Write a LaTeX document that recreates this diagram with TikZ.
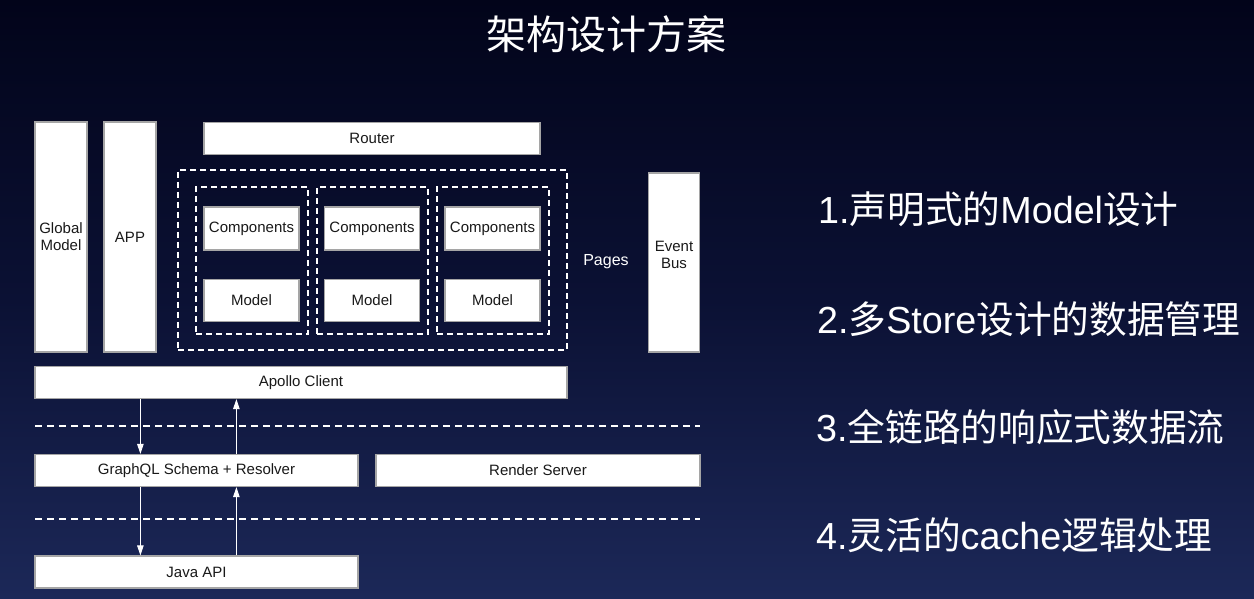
\documentclass[tikz,border=0pt]{standalone}
\usepackage{fontspec}
\setmainfont{Liberation Sans}
\newfontfamily\cjk{Noto Sans CJK SC}
\usetikzlibrary{arrows.meta}
\definecolor{bgtop}{RGB}{2,4,26}
\definecolor{bgmid}{RGB}{11,17,52}
\definecolor{bgbot}{RGB}{28,40,88}
\definecolor{boxline}{RGB}{165,165,165}
\definecolor{boxtext}{RGB}{25,25,25}

\begin{document}
\begin{tikzpicture}[x=1pt,y=-1pt,
  box/.style={draw=boxline, line width=1.2pt, fill=white, inner sep=0pt,
    text=boxtext, font=\fontsize{15}{17}\selectfont, align=center},
  boxlabel/.style={inner sep=0pt, text=boxtext,
    font=\fontsize{15}{17}\selectfont, align=center},
  group/.style={draw=white, line width=1.3pt, dash pattern=on 6pt off 4pt,
    inner sep=0pt},
  sep/.style={draw=white, line width=1.3pt, dash pattern=on 7pt off 5pt},
  flow/.style={draw=white, line width=0.9pt, -{Triangle[width=6.5pt,length=10pt]}},
  point/.style={font=\fontsize{37.7}{42}\selectfont, text=white,
    anchor=base west, inner sep=0pt}]

% background
\useasboundingbox (0,0) rectangle (1254,599);
\shade[top color=bgtop, bottom color=bgbot, middle color=bgmid]
  (0,0) rectangle (1254,599);

% title
\node[text=white, font=\cjk\fontsize{40}{44}\selectfont, inner sep=0pt]
  (title) at (606,34) {架构设计方案};

% left columns and router
\node[box, minimum width=52, minimum height=230] (gm) at (61,237) {Global\\Model};
\node[box, minimum width=52, minimum height=230] (app) at (130,237) {APP};
\node[box, minimum width=336, minimum height=32] (router) at (372,138.5) {Router};

% pages group
\node[group, minimum width=389, minimum height=180] (pages) at (372.5,260) {};
\node[group, minimum width=112, minimum height=147] (pg1) at (252,260.5) {};
\node[group, minimum width=111, minimum height=147] (pg2) at (372.5,260.5) {};
\node[group, minimum width=112, minimum height=147] (pg3) at (493,260.5) {};

\node[box, minimum width=95, minimum height=43] (c1) at (251.5,228.5) {Components};
\node[box, minimum width=95, minimum height=43] (c2) at (372,228.5) {Components};
\node[box, minimum width=95, minimum height=43] (c3) at (492.5,228.5) {Components};
\node[box, minimum width=95, minimum height=42] (m1) at (251.5,300.5) {Model};
\node[box, minimum width=95, minimum height=42] (m2) at (372,300.5) {Model};
\node[box, minimum width=95, minimum height=42] (m3) at (492.5,300.5) {Model};

\node[text=white, font=\fontsize{16}{18}\selectfont, inner sep=0pt]
  (pageslabel) at (606,262) {Pages};

% event bus, its label sits a little above the middle
\node[box, minimum width=51, minimum height=179] (bus) at (674,262.5) {};
\node[boxlabel] (buslabel) at ([yshift=8pt]bus.center) {Event\\Bus};

% service layers
\node[box, minimum width=532, minimum height=32] (apollo) at (301,382.5) {Apollo Client};
\node[box, minimum width=323, minimum height=32] (gql) at (196.5,470.5) {GraphQL Schema + Resolver};
\node[box, minimum width=324, minimum height=32] (render) at (538,470.5) {Render Server};
\node[box, minimum width=323, minimum height=32] (java) at (196.5,572) {Java API};

% layer separators
\coordinate (s1l) at (35,426);
\coordinate (s1r) at (700,426);
\coordinate (s2l) at (35,519);
\coordinate (s2r) at (700,519);
\draw[sep] (s1l) -- (s1r);
\draw[sep] (s2l) -- (s2r);

% request / response flows
\draw[flow] ([xshift=106pt]apollo.south west) -- ([xshift=106pt]gql.north west);
\draw[flow] ([xshift=202pt]gql.north west) -- ([xshift=202pt]apollo.south west);
\draw[flow] ([xshift=106pt]gql.south west) -- ([xshift=106pt]java.north west);
\draw[flow] ([xshift=202pt]java.north west) -- ([xshift=202pt]gql.south west);

% key points
\node[point] (p1) at (818,224) {1.{\cjk 声明式的}Model{\cjk 设计}};
\node[point] (p2) at (817,333) {2.{\cjk 多}Store{\cjk 设计的数据管理}};
\node[point] (p3) at (816,441) {3.{\cjk 全链路的响应式数据流}};
\node[point] (p4) at (816,549) {4.{\cjk 灵活的}cache{\cjk 逻辑处理}};
\end{tikzpicture}
\end{document}
